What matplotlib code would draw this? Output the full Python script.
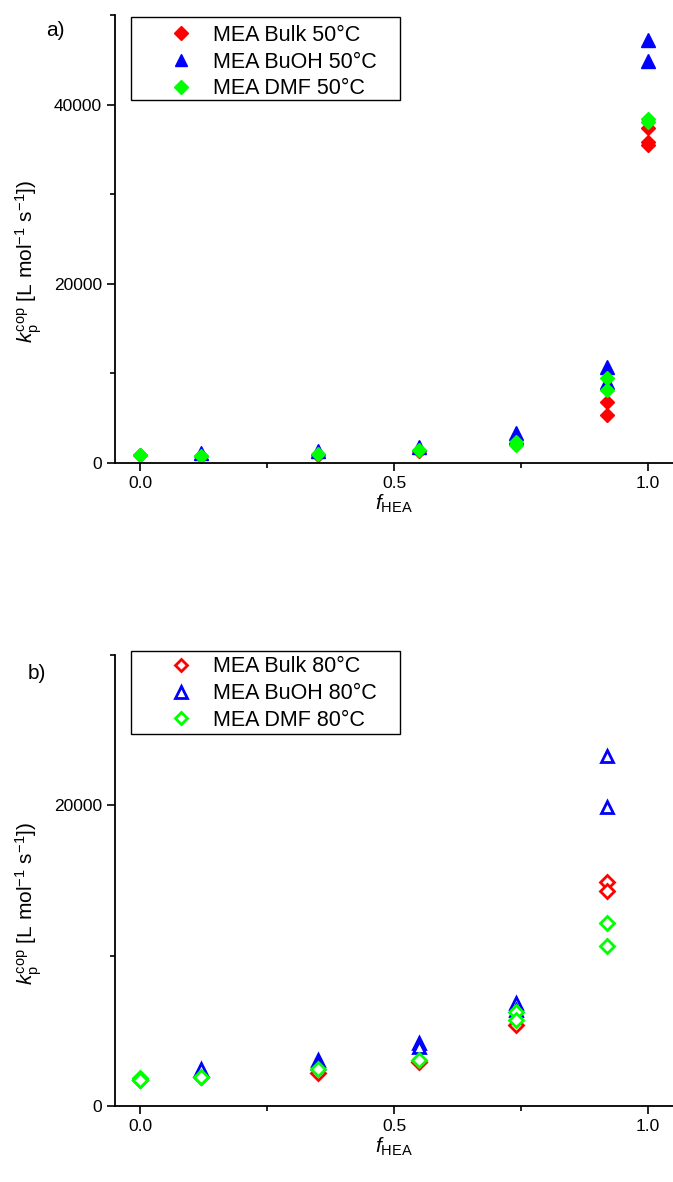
import matplotlib
matplotlib.use("Agg")
import matplotlib.pyplot as plt
from matplotlib.patches import Rectangle
from matplotlib.ticker import MultipleLocator

plt.rcParams["font.family"] = ["Liberation Sans", "DejaVu Sans"]
plt.rcParams["mathtext.fontset"] = "custom"
plt.rcParams["mathtext.rm"] = "Liberation Sans"
plt.rcParams["mathtext.it"] = "Liberation Sans:italic"

# a) 50 °C, filled markers
bulk50_x = [0.0, 0.12, 0.35, 0.55, 0.74, 0.92, 0.92, 1.0, 1.0, 1.0]
bulk50_y = [850, 800, 900, 1300, 2200, 6800, 5400, 37400, 35800, 35500]
buoh50_x = [0.12, 0.35, 0.55, 0.74, 0.74, 0.92, 0.92, 1.0, 1.0]
buoh50_y = [1100, 1300, 1800, 3300, 2900, 10700, 9000, 47200, 44900]
dmf50_x = [0.0, 0.12, 0.35, 0.55, 0.74, 0.74, 0.92, 0.92, 1.0, 1.0]
dmf50_y = [850, 800, 1000, 1450, 2300, 2000, 9500, 8200, 38400, 38100]

# b) 80 °C, open markers
bulk80_x = [0.0, 0.12, 0.35, 0.55, 0.74, 0.92, 0.92]
bulk80_y = [1750, 1900, 2200, 2950, 5400, 14900, 14300]
buoh80_x = [0.12, 0.35, 0.35, 0.55, 0.55, 0.74, 0.74, 0.92, 0.92]
buoh80_y = [2450, 3050, 2850, 4200, 3950, 6850, 6400, 23300, 19900]
dmf80_x = [0.0, 0.0, 0.12, 0.35, 0.55, 0.74, 0.74, 0.92, 0.92]
dmf80_y = [1850, 1700, 1950, 2450, 3050, 6250, 5750, 12200, 10650]

RED, BLUE, GREEN = "#ff0000", "#0000ff", "#00ff00"
ylabel = r"$k_{\mathrm{p}}^{\mathrm{cop}}$ [L mol$^{-1}$ s$^{-1}$])"
xlabel = r"$f_{\mathrm{HEA}}$"

fig = plt.figure(figsize=(6.73, 11.82), dpi=100)
ax1 = fig.add_axes([0.171, 0.6083, 0.829, 0.379])
ax2 = fig.add_axes([0.171, 0.0643, 0.829, 0.3816])


def style_axis(ax, ymax, ymajor):
    for s in ("top", "right"):
        ax.spines[s].set_visible(False)
    for s in ("left", "bottom"):
        ax.spines[s].set_linewidth(1.3)
    ax.set_xlim(-0.05, 1.05)
    ax.set_ylim(0, ymax)
    ax.xaxis.set_major_locator(MultipleLocator(0.5))
    ax.xaxis.set_minor_locator(MultipleLocator(0.25))
    ax.yaxis.set_major_locator(MultipleLocator(ymajor))
    ax.yaxis.set_minor_locator(MultipleLocator(ymajor / 2))
    ax.tick_params(which="major", direction="out", length=6, width=1.2, labelsize=12.5)
    ax.tick_params(which="minor", direction="out", length=3.5, width=1.2)
    ax.set_xlabel(xlabel, fontsize=15, labelpad=1)
    ax.set_ylabel(ylabel, fontsize=15)
    ax.yaxis.set_label_coords(-0.128, 0.45)
    ax.xaxis.set_major_formatter(plt.FuncFormatter(lambda v, p: f"{v:.1f}"))
    ax.yaxis.set_major_formatter(plt.FuncFormatter(lambda v, p: f"{v:.0f}"))


# top panel
ax1.plot(bulk50_x, bulk50_y, ls="none", marker="D", ms=7.5, color=RED, mec=RED,
         label="MEA Bulk 50°C", clip_on=False)
ax1.plot(buoh50_x, buoh50_y, ls="none", marker="^", ms=9.5, color=BLUE, mec=BLUE,
         label="MEA BuOH 50°C", clip_on=False)
ax1.plot(dmf50_x, dmf50_y, ls="none", marker="D", ms=7.5, color=GREEN, mec=GREEN,
         label="MEA DMF 50°C", clip_on=False)
style_axis(ax1, 50000, 20000)

# bottom panel
ax2.plot(bulk80_x, bulk80_y, ls="none", marker="D", ms=7, mfc="white", mec=RED, mew=2,
         label="MEA Bulk 80°C", clip_on=False)
ax2.plot(buoh80_x, buoh80_y, ls="none", marker="^", ms=9, mfc="white", mec=BLUE, mew=2,
         label="MEA BuOH 80°C", clip_on=False)
ax2.plot(dmf80_x, dmf80_y, ls="none", marker="D", ms=7, mfc="white", mec=GREEN, mew=2,
         label="MEA DMF 80°C", clip_on=False)
style_axis(ax2, 30000, 20000)

# legends: Origin-style box drawn separately, entries without frame
for ax, top, box_y, box_h in ((ax1, 0.978, 0.810, 0.1855), (ax2, 0.997, 0.825, 0.184)):
    ax.add_patch(Rectangle((0.0287, box_y), 0.482, box_h, transform=ax.transAxes,
                           fill=False, edgecolor="black", linewidth=1.0, clip_on=False,
                           zorder=4))
    ax.legend(loc="upper left", bbox_to_anchor=(0.0753, top), borderaxespad=0,
              fontsize=15.5, frameon=False, handletextpad=0.4, labelspacing=0.27,
              borderpad=0, handlelength=2.18, markerscale=0.9)

fig.text(0.082, 0.9738, "a)", fontsize=15, ha="center", va="center")
fig.text(0.055, 0.4306, "b)", fontsize=15, ha="center", va="center")

fig.savefig("out.png", dpi=100)
